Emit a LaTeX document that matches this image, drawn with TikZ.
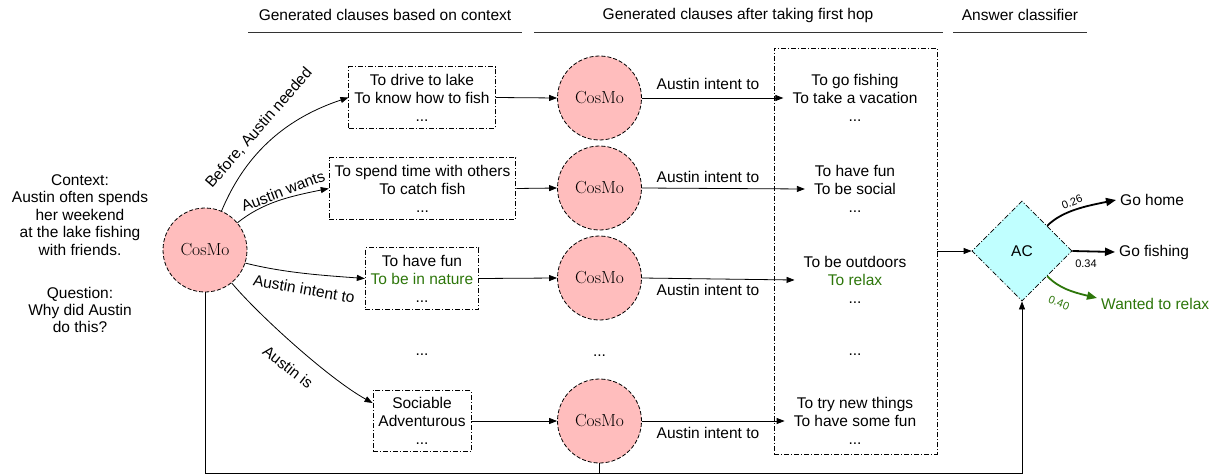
\documentclass[tikz,border=0pt]{standalone}
\usepackage{fontspec}
\newfontfamily\helv{Liberation Sans}
\usetikzlibrary{arrows.meta,shapes.geometric,calc}
\definecolor{cosmopink}{RGB}{255,189,189}
\definecolor{accyan}{RGB}{192,255,255}
\definecolor{ansgreen}{RGB}{45,118,10}
\begin{document}
\begin{tikzpicture}[x=1pt,y=-1pt,
  every node/.style={font=\helv\fontsize{15.5}{18}\selectfont},
  cosmo/.style={circle,draw,dash pattern=on 4pt off 2pt,line width=0.8pt,fill=cosmopink,minimum size=84pt,inner sep=0pt,font=\rmfamily\fontsize{17.5}{18}\selectfont},
  dashdot/.style={draw,dash pattern=on 5pt off 2pt on 1pt off 2pt,line width=0.8pt},
  clause/.style={dashdot,align=center,inner xsep=5.5pt,inner ysep=7pt},
  txt/.style={align=center,inner xsep=9pt},
  arr/.style={-{Triangle[length=8pt,width=6pt]},line width=0.8pt},
  bigarr/.style={-{Triangle[length=10pt,width=8pt]},line width=1.8pt},
  small/.style={font=\helv\fontsize{11}{13}\selectfont},
  rule/.style={line width=0.8pt,black!80}
]
\useasboundingbox (0,0) rectangle (1215,476);

% headers
\node (h1) at (385,15) {Generated clauses based on context};
\node (h2) at (738,15) {Generated clauses after taking first hop};
\node (h3) at (1020,15) {Answer classifier};
\draw[rule] (248,32) -- (522,32);
\draw[rule] (534,32) -- (943,32);
\draw[rule] (953,32) -- (1087,32);

% context
\node[align=center,font=\helv\fontsize{15.5}{17.5}\selectfont] (ctx) at (80,215) {Context:\\Austin often spends\\her weekend\\at the lake fishing\\with friends.};
\node[align=center,font=\helv\fontsize{15.5}{17}\selectfont] (q) at (80,310) {Question:\\Why did Austin\\do this?};

\node[cosmo] (main) at (205,250) {CosMo};

% first clause column
\node[clause] (b1) at (422,97.5) {To drive to lake\\To know how to fish\\...};
\node[clause] (b2) at (422.5,188.5) {To spend time with others\\To catch fish\\...};
\node[clause] (b3) at (422,278.5) {To have fun\\\textcolor{ansgreen}{To be in nature}\\...};
\node[clause] (b4) at (422,421) {Sociable\\Adventurous\\...};
\node (d1) at (422,355) {...};

% CosMo column
\node[cosmo] (c1) at (599.5,98) {CosMo};
\node[cosmo] (c2) at (599.5,188) {CosMo};
\node[cosmo] (c3) at (599.5,278) {CosMo};
\node[cosmo] (c4) at (599.5,421) {CosMo};
\node (d2) at (599.5,356) {...};

% big box
\node[dashdot,minimum width=163pt,minimum height=406pt,inner sep=0pt] (big) at (855.5,251) {};
\node[txt] (t1) at (855,98) {To go fishing\\To take a vacation\\...};
\node[txt] (t2) at (855,189) {To have fun\\To be social\\...};
\node[txt] (t3) at (855,280) {To be outdoors\\\textcolor{ansgreen}{To relax}\\...};
\node (d3) at (855,355) {...};
\node[txt] (t4) at (855,421) {To try new things\\To have some fun\\...};

% curved connectors from main CosMo
\draw[arr] (main.67) .. controls +(25,-60) and +(-60,20) .. (b1.west);
\draw[arr] (main.40) .. controls +(25,-20) and +(-40,8) .. (b2.west);
\draw[arr] (main.-18) .. controls +(40,10) and +(-40,-3) .. (b3.west);
\draw[arr] (main.-51) .. controls +(25,30) and +(-45,-25) .. ($(b4.west)+(0,-18)$);
\node[rotate=49] (l1) at (259,128) {Before, Austin needed};
\node[rotate=21] (l2) at (283,191) {Austin wants};
\node[rotate=-10] (l3) at (304,289) {Austin intent to};
\node[rotate=-38] (l4) at (288,367) {Austin is};

% box -> CosMo
\draw[arr] (b1.east) -- (c1.west);
\draw[arr] (b2.east) -- (c2.west);
\draw[arr] (b3.east) -- (c3.west);
\draw[arr] (b4.east) -- (c4.west);

% CosMo -> texts
\draw[arr] (c1.east) -- (t1.west);
\draw[arr] (c2.east) -- (t2.west);
\draw[arr] (c3.east) -- (t3.west);
\draw[arr] (c4.east) -- (t4.west);
\node (a1) at (708,84) {Austin intent to};
\node (a2) at (708,177) {Austin intent to};
\node (a3) at (708,290) {Austin intent to};
\node (a4) at (708,433) {Austin intent to};

% answer classifier
\node[diamond,dashdot,fill=accyan,minimum width=100pt,minimum height=100pt,inner sep=0pt,aspect=1] (ac) at (1022,251) {AC};
\draw[arr] (big.east) -- (ac.west);

\node[anchor=west,inner xsep=4pt] (o1) at (1116,200) {Go home};
\node[anchor=west,inner xsep=4pt] (o2) at (1115,252) {Go fishing};
\node[anchor=west,inner xsep=4pt,text=ansgreen] (o3) at (1097,304) {Wanted to relax};
\draw[bigarr] (ac.45) .. controls +(15,-15) and +(-30,6) .. (o1.west);
\draw[bigarr] (ac.east) -- (o2.west);
\draw[bigarr,ansgreen] (ac.-45) .. controls +(12,12) and +(-25,-6) .. ($(o3.west)+(0,-6)$);
\node[small,rotate=22] (p1) at (1072,202) {0.26};
\node[small] (p2) at (1086,264) {0.34};
\node[small,rotate=-22,text=ansgreen] (p3) at (1059,303) {0.40};

% bottom routing
\coordinate (floor) at (0,473);
\draw[arr] (main.south) -- (main.south |- floor) -| (ac.south);
\draw[line width=0.8pt] (c4.south) -- (c4.south |- floor);
\end{tikzpicture}
\end{document}
